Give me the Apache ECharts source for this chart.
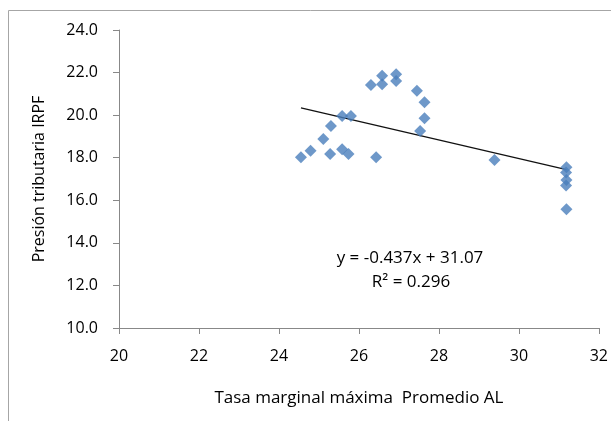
<!DOCTYPE html>
<html><head><meta charset="utf-8">
<script src="https://cdn.jsdelivr.net/npm/echarts@6/dist/echarts.min.js"></script>
<style>html,body{margin:0;padding:0;background:#fff}#c{width:611px;height:421px}</style>
</head><body><div id="c"></div>
<script>
const xValues = [24.55,24.79,25.11,25.30,25.28,25.58,25.58,25.74,25.80,26.43,26.30,26.58,26.58,26.93,26.93,27.45,27.64,27.64,27.53,29.39,31.19,31.18,31.19,31.18,31.19];
const yValues = [18.02,18.33,18.88,19.49,18.17,19.96,18.40,18.17,19.96,18.02,21.42,21.85,21.45,21.92,21.60,21.15,20.60,19.85,19.25,17.89,17.55,17.30,16.95,16.70,15.58];
const slope = -0.437, intercept = 31.07;
const eqText = 'y = -0.437x + 31.07';
const r2Text = 'R² = 0.296';
const xName = 'Tasa marginal máxima  Promedio AL';
const yName = 'Presión tributaria IRPF';

const pts = xValues.map((x,i)=>[x,yValues[i]]);
const xMin = Math.min(...xValues), xMax = Math.max(...xValues);
const trend = [[xMin, slope*xMin+intercept],[xMax, slope*xMax+intercept]];
const FONT = 'Open Sans';
const FS = 16;
const chart = echarts.init(document.getElementById('c'), null, {renderer:'canvas'});
chart.setOption({
  animation:false,
  textStyle:{fontFamily:FONT},
  grid:{left:119, top:30, right:12, bottom:93},
  xAxis:{type:'value', min:20, max:32, interval:2,
    name:xName, nameLocation:'middle', nameGap:62,
    nameTextStyle:{fontFamily:FONT, fontSize:17, color:'#000'},
    axisLine:{show:true, lineStyle:{color:'#888', width:1}},
    axisTick:{show:true, length:6, lineStyle:{color:'#888'}},
    axisLabel:{fontFamily:FONT, fontSize:FS, color:'#000', margin:20},
    splitLine:{show:false}},
  yAxis:{type:'value', min:10, max:24, interval:2,
    name:yName, nameLocation:'middle', nameGap:72, nameRotate:90,
    nameTextStyle:{fontFamily:FONT, fontSize:FS, color:'#000'},
    axisLine:{show:true, lineStyle:{color:'#888', width:1}},
    axisTick:{show:true, length:6, lineStyle:{color:'#888'}},
    axisLabel:{fontFamily:FONT, fontSize:FS, color:'#000', margin:21, formatter:v=>v.toFixed(1)},
    splitLine:{show:false}},
  graphic:[
    {type:'rect', shape:{x:8.5,y:10.5,width:700,height:500}, style:{fill:'none', stroke:'#a6a6a6', lineWidth:1}, silent:true},
    {type:'text', x:410, y:258, style:{text:eqText, align:'center', verticalAlign:'middle', font:'17px "Open Sans"', fill:'#000'}},
    {type:'text', x:411, y:282, style:{text:r2Text, align:'center', verticalAlign:'middle', font:'17px "Open Sans"', fill:'#000'}}
  ],
  series:[
    {type:'scatter', data:pts, symbol:'diamond', symbolSize:12, itemStyle:{color:'#4a7ebb'}, z:3},
    {type:'line', data:trend, symbol:'none', lineStyle:{color:'#111', width:1.3}, z:2}
  ]
});
</script></body></html>
